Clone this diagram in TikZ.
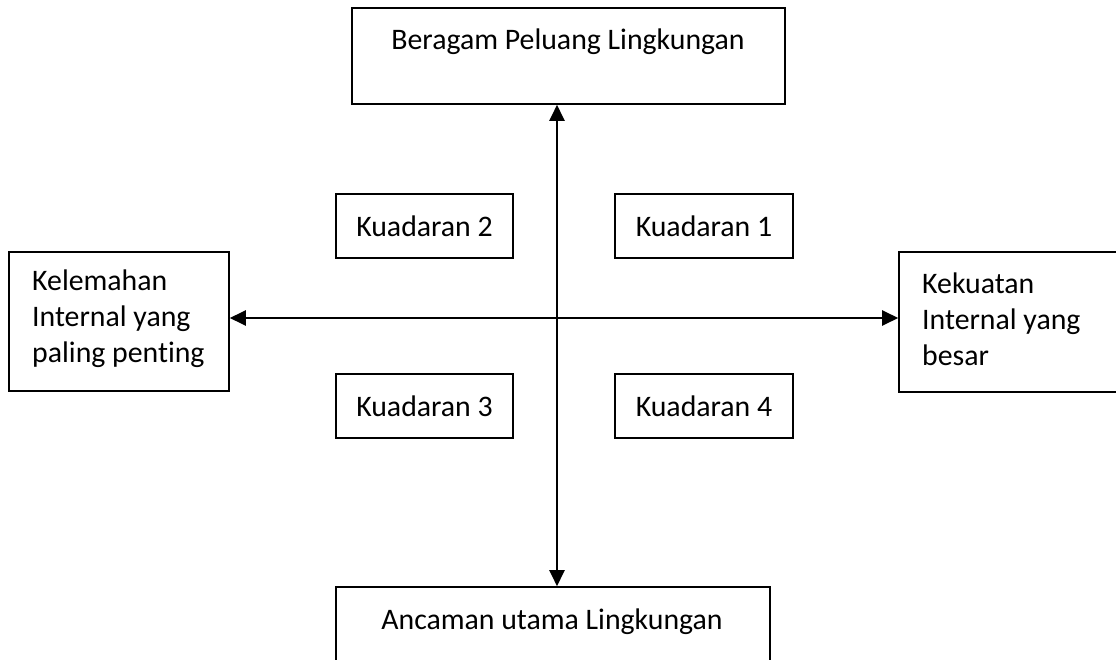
\documentclass[tikz,border=0pt]{standalone}
\usepackage{fontspec}
\setmainfont[Ligatures=NoCommon]{Carlito}
\usetikzlibrary{arrows.meta}
\begin{document}
\begin{tikzpicture}[x=1pt,y=-1pt,
  box/.style={draw,line width=1.6pt,rectangle,inner sep=0pt,anchor=center},
  txt/.style={inner sep=0pt,font=\fontsize{29.8}{36}\selectfont},
  axis/.style={line width=2.3pt,{Triangle[length=16pt,width=15pt]}-{Triangle[length=16pt,width=15pt]}}]
  \useasboundingbox (0,0) rectangle (1116,660);
  \clip (0,0) rectangle (1116,660);
  % outer boxes
  \node[box,minimum width=433pt,minimum height=96pt] (top) at (568.5,56) {};
  \node[box,minimum width=434pt,minimum height=113pt] (bot) at (553,643.5) {};
  \node[box,minimum width=220pt,minimum height=139pt] (left) at (119,321.5) {};
  \node[box,minimum width=231pt,minimum height=140pt] (right) at (1014.5,322) {};
  % quadrant boxes
  \node[box,minimum width=177pt,minimum height=64pt] (q2) at (424.5,226) {};
  \node[box,minimum width=178pt,minimum height=64pt] (q1) at (704,226) {};
  \node[box,minimum width=177pt,minimum height=64pt] (q3) at (424.5,406) {};
  \node[box,minimum width=178pt,minimum height=64pt] (q4) at (704,406) {};
  % labels
  \node[txt] (ttop) at (568,42) {Beragam Peluang Lingkungan};
  \node[txt] (tbot) at (552,622) {Ancaman utama Lingkungan};
  \node[txt,align=left,anchor=west] (tleft) at (32,319) {Kelemahan\\Internal yang\\paling penting};
  \node[txt,align=left,anchor=west] (tright) at (922,319) {Kekuatan\\Internal yang\\besar};
  \node[txt] (tq2) at (q2) {Kuadaran 2};
  \node[txt] (tq1) at (q1) {Kuadaran 1};
  \node[txt] (tq3) at (q3) {Kuadaran 3};
  \node[txt] (tq4) at (q4) {Kuadaran 4};
  % axes
  \coordinate (o) at (557,318);
  \draw[axis] (o |- top.south) -- (o |- bot.north);
  \draw[axis] (left.east |- o) -- (right.west |- o);
\end{tikzpicture}
\end{document}
